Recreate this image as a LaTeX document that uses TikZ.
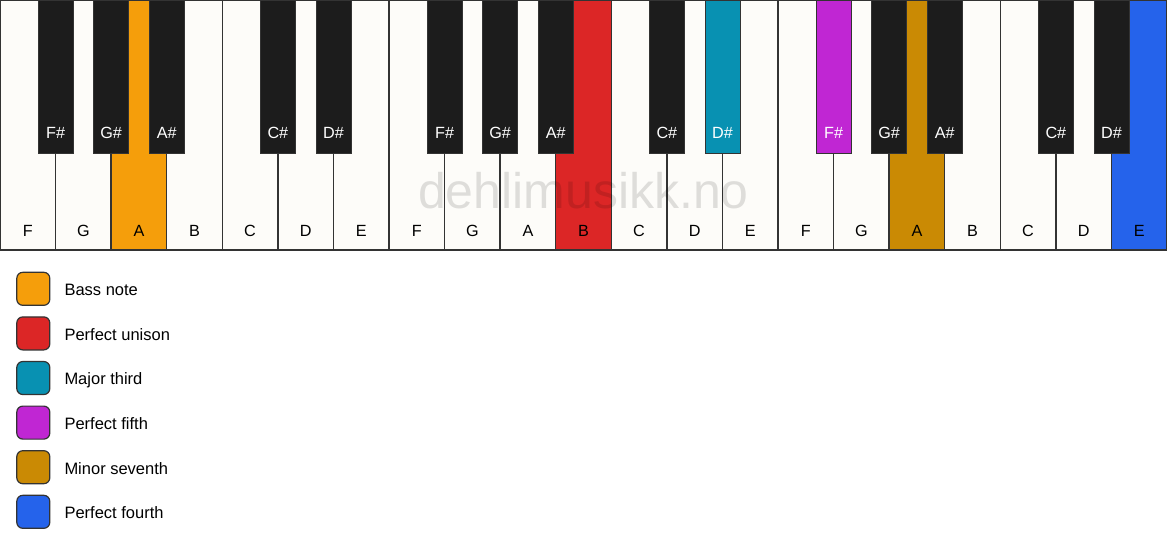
\documentclass[tikz,border=0pt]{standalone}
\usepackage{fontspec}
\setmainfont{Liberation Sans}
\definecolor{keywhite}{RGB}{253,252,249}
\definecolor{keyblack}{RGB}{28,28,28}
\definecolor{keyline}{RGB}{51,51,51}
\definecolor{cbass}{HTML}{F59E0B}
\definecolor{cunison}{HTML}{DC2626}
\definecolor{cthird}{HTML}{0891B2}
\definecolor{cfifth}{HTML}{C026D3}
\definecolor{cseventh}{HTML}{CA8A04}
\definecolor{cfourth}{HTML}{2563EB}
\tikzset{
  whitekey/.style={rectangle, draw=keyline, line width=1.3pt, minimum width=55.571pt, minimum height=250pt, anchor=north west, inner sep=0pt, outer sep=0pt},
  blackkey/.style={rectangle, draw=keyline, line width=0.8pt, minimum width=35pt, minimum height=153pt, anchor=north, inner sep=0pt, outer sep=0pt},
  wlabel/.style={anchor=base, inner sep=0pt, text=black, font=\fontsize{16.2}{19}\selectfont},
  blabel/.style={anchor=base, inner sep=0pt, text=white, font=\fontsize{16.2}{19}\selectfont},
  legbox/.style={rectangle, rounded corners=6pt, draw=keyline, line width=1.2pt, minimum width=33pt, minimum height=33pt, inner sep=0pt},
  legtext/.style={anchor=base west, inner sep=0pt, text=black, font=\fontsize{16.5}{19}\selectfont},
  watermark/.style={anchor=base, inner sep=0pt, text=black, text opacity=0.12, font=\fontsize{50}{55}\selectfont}
}
\begin{document}
\begin{tikzpicture}[x=1pt,y=-1pt]
\useasboundingbox (0,0) rectangle (1167,550);
\fill[white] (0,0) rectangle (1167,550);
% white keys
\foreach \i/\n/\c in {0/F/keywhite,1/G/keywhite,2/A/cbass,3/B/keywhite,4/C/keywhite,5/D/keywhite,6/E/keywhite,
  7/F/keywhite,8/G/keywhite,9/A/keywhite,10/B/cunison,11/C/keywhite,12/D/keywhite,13/E/keywhite,
  14/F/keywhite,15/G/keywhite,16/A/cseventh,17/B/keywhite,18/C/keywhite,19/D/keywhite,20/E/cfourth}{
  \node[whitekey, fill=\c] (w\i) at ({\i*55.571},0) {};
  \node[wlabel] (wl\i) at ({(\i+0.5)*55.571},236) {\n};
}
\draw[keyline, line width=2.2pt] (w0.south west) -- (w20.south east);
% black keys
\foreach \b/\n/\c in {1/F/keyblack,2/G/keyblack,3/A/keyblack,5/C/keyblack,6/D/keyblack,
  8/F/keyblack,9/G/keyblack,10/A/keyblack,12/C/keyblack,13/D/cthird,
  15/F/cfifth,16/G/keyblack,17/A/keyblack,19/C/keyblack,20/D/keyblack}{
  \node[blackkey, fill=\c] (b\b) at ({\b*55.571},0) {};
  \node[blabel] (bl\b) at ({\b*55.571},138.5) {\n\#};
}
% watermark
\node[watermark] (wm) at (583.5,208) {dehlimusikk.no};
% legend
\foreach \i/\c/\t in {0/cbass/Bass note,1/cunison/Perfect unison,2/cthird/Major third,
  3/cfifth/Perfect fifth,4/cseventh/Minor seventh,5/cfourth/Perfect fourth}{
  \node[legbox, fill=\c] (lg\i) at (33.3,{288.8+\i*44.6}) {};
  \node[legtext] (lt\i) at (64.3,{295.7+\i*44.6}) {\t};
}
\end{tikzpicture}
\end{document}
